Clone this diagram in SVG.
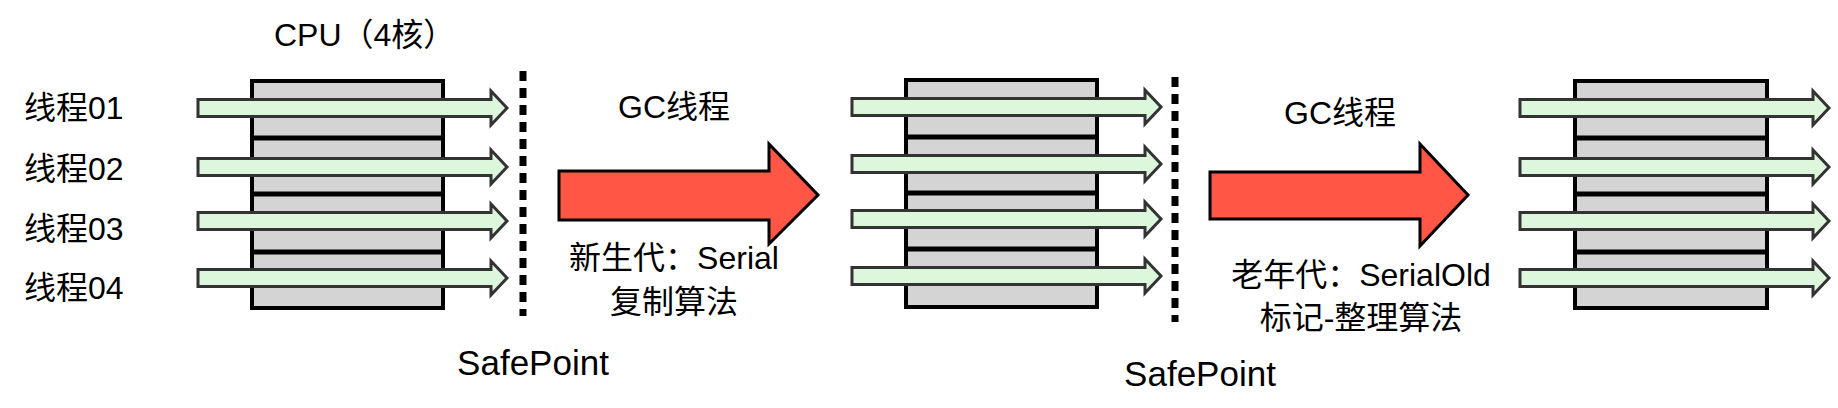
<svg xmlns="http://www.w3.org/2000/svg" width="1838" height="408" viewBox="0 0 1838 408">
<style>
.box{fill:#d4d4d4;stroke:#000;stroke-width:4}
.div{stroke:#000;stroke-width:5}
.ga{fill:#dcf7dc;stroke:#333;stroke-width:3;stroke-linejoin:miter}
.ra{fill:#ff5645;stroke:#000;stroke-width:3}
.dot{stroke:#000;stroke-width:7;stroke-dasharray:10 7}
text{font-family:"Liberation Sans","Noto Sans CJK SC",sans-serif;fill:#000}
.t{font-size:32px}
.s{font-size:35px}
.c{text-anchor:middle}
</style>
<defs>
<path id="g1" d="M0,-8.5 H293 V-17 L309,0 L293,17 V8.5 H0 Z"/>
</defs>
<g id="labels">
<text class="t" x="24" y="119">线程01</text>
<text class="t" x="24" y="180">线程02</text>
<text class="t" x="24" y="240">线程03</text>
<text class="t" x="24" y="299">线程04</text>
<text class="t" x="274" y="46">CPU（4核）</text>
</g>
<g id="cpu1">
<rect class="box" x="252" y="81" width="191" height="227"/>
<line class="div" x1="252" y1="138" x2="443" y2="138"/>
<line class="div" x1="252" y1="194" x2="443" y2="194"/>
<line class="div" x1="252" y1="252" x2="443" y2="252"/>
</g>
<g id="cpu2">
<rect class="box" x="906" y="80" width="191" height="227"/>
<line class="div" x1="906" y1="137" x2="1097" y2="137"/>
<line class="div" x1="906" y1="193" x2="1097" y2="193"/>
<line class="div" x1="906" y1="249" x2="1097" y2="249"/>
</g>
<g id="cpu3">
<rect class="box" x="1575" y="81" width="192" height="227"/>
<line class="div" x1="1575" y1="138" x2="1767" y2="138"/>
<line class="div" x1="1575" y1="194" x2="1767" y2="194"/>
<line class="div" x1="1575" y1="252" x2="1767" y2="252"/>
</g>
<g id="connectors">
<use href="#g1" class="ga" transform="translate(198,108)"/>
<use href="#g1" class="ga" transform="translate(198,167)"/>
<use href="#g1" class="ga" transform="translate(198,221)"/>
<use href="#g1" class="ga" transform="translate(198,278)"/>
<use href="#g1" class="ga" transform="translate(852,107)"/>
<use href="#g1" class="ga" transform="translate(852,164)"/>
<use href="#g1" class="ga" transform="translate(852,219)"/>
<use href="#g1" class="ga" transform="translate(852,276)"/>
<use href="#g1" class="ga" transform="translate(1520,108)"/>
<use href="#g1" class="ga" transform="translate(1520,167)"/>
<use href="#g1" class="ga" transform="translate(1520,221)"/>
<use href="#g1" class="ga" transform="translate(1520,278)"/>
<path class="ra" d="M559,171 H769 V144 L818,195 L769,244 V220 H559 Z"/>
<path class="ra" d="M1210,172 H1420 V144 L1468,195 L1420,246 V219 H1210 Z"/>
</g>
<g id="safepoint1">
<line class="dot" x1="523" y1="71" x2="523" y2="316"/>
<text class="s c" x="533" y="375">SafePoint</text>
</g>
<g id="safepoint2">
<line class="dot" x1="1175" y1="77" x2="1175" y2="322"/>
<text class="s c" x="1200" y="386">SafePoint</text>
</g>
<g id="gc1">
<text class="t c" x="674" y="118">GC线程</text>
<text class="t c" x="674" y="269">新生代：Serial</text>
<text class="t c" x="674" y="313">复制算法</text>
</g>
<g id="gc2">
<text class="t c" x="1340" y="124">GC线程</text>
<text class="t c" x="1361" y="286">老年代：SerialOld</text>
<text class="t c" x="1361" y="329">标记-整理算法</text>
</g>
</svg>
